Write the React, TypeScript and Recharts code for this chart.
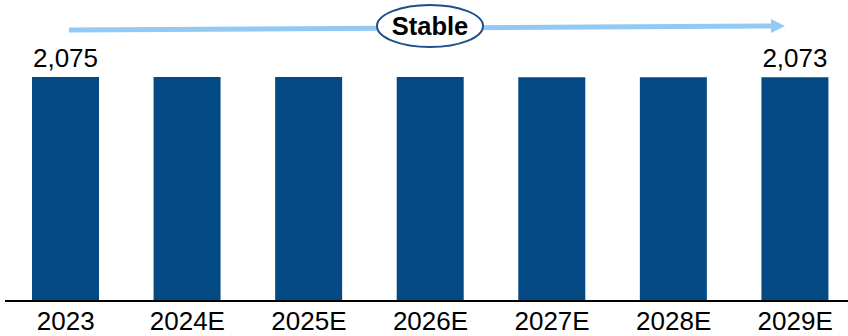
import React from "react";
import { BarChart, Bar, XAxis, YAxis, LabelList } from "recharts";

const years = ["2023", "2024E", "2025E", "2026E", "2027E", "2028E", "2029E"];
const volumes = [2075, 2074, 2074, 2074, 2073, 2073, 2073];
const labelledYears = ["2023", "2029E"];
const trendLabel = "Stable";

const data = years.map((year, i) => ({ year, value: volumes[i] }));

const FONT = "'Liberation Sans', Arial, sans-serif";
const BAR_BLUE = "#034A85";
const ARROW_BLUE = "#92CAF4";

const YearTick = (props: any) => {
  const { x, y, payload } = props;
  return (
    <text x={x} y={y} dy={29} textAnchor="middle" fontFamily={FONT} fontSize={26} fill="#000">
      {payload.value}
    </text>
  );
};

const EndLabel = (props: any) => {
  const { x, y, width, index } = props;
  if (!labelledYears.includes(years[index])) return null;
  return (
    <text x={x + width / 2} y={y - 10} textAnchor="middle" fontFamily={FONT} fontSize={26} fill="#000">
      {volumes[index].toLocaleString("en-US")}
    </text>
  );
};

export default function App() {
  return (
    <div style={{ position: "absolute", left: 0, top: 0, width: 848, height: 336, overflow: "hidden", background: "#fff" }}>
      <BarChart width={860} height={336} data={data} margin={{ top: 77, right: 4, bottom: 0, left: 5 }}>
        <XAxis
          dataKey="year"
          height={35}
          tickLine={false}
          tickSize={0}
          tickMargin={0}
          axisLine={{ stroke: "#000", strokeWidth: 2 }}
          tick={<YearTick />}
          interval={0}
        />
        <YAxis hide domain={[0, 2075]} />
        <Bar dataKey="value" fill={BAR_BLUE} barSize={67} isAnimationActive={false}>
          <LabelList dataKey="value" content={<EndLabel />} />
        </Bar>
      </BarChart>
      <svg width={848} height={336} style={{ position: "absolute", left: 0, top: 0, pointerEvents: "none" }}>
        <line x1={69} y1={30} x2={772} y2={26} stroke={ARROW_BLUE} strokeWidth={5} />
        <polygon points="771,19 785,26 771,33" fill={ARROW_BLUE} />
        <ellipse cx={430} cy={26} rx={53} ry={21} fill="#fff" stroke="#1F4E8C" strokeWidth={2} />
        <text x={430} y={35} textAnchor="middle" fontFamily={FONT} fontSize={25.5} fontWeight="bold" fill="#000">
          {trendLabel}
        </text>
      </svg>
    </div>
  );
}
